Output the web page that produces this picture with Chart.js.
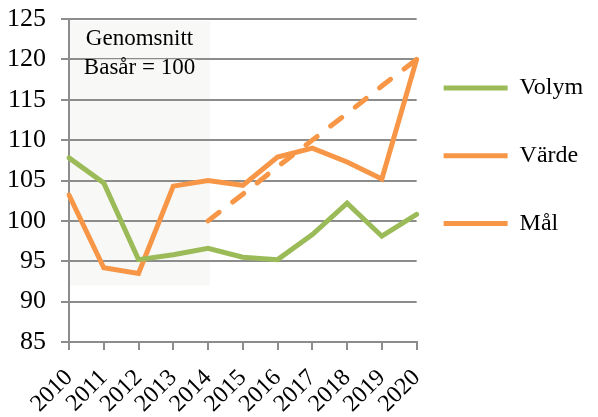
<!DOCTYPE html>
<html>
<head>
<meta charset="utf-8">
<script src="https://cdn.jsdelivr.net/npm/chart.js@4.4.0/dist/chart.umd.min.js"></script>
<style>
html, body { margin: 0; padding: 0; background: #fff; }
#wrap { width: 598px; height: 417px; position: relative; }
</style>
</head>
<body>
<div id="wrap"><canvas id="myChart"></canvas></div>
<script>
//Values
const years = ['2010', '2011', '2012', '2013', '2014', '2015', '2016', '2017', '2018', '2019', '2020'];
const volym = [107.8, 104.7, 95.2, 95.8, 96.6, 95.5, 95.2, 98.3, 102.2, 98.1, 100.8];
const varde = [103.2, 94.2, 93.5, 104.3, 105.0, 104.4, 107.9, 109.0, 107.3, 105.2, 120.0];
const mal = [null, null, null, null, 100, 103.3, 106.7, 110, 113.3, 116.7, 120];
const seriesNames = ['Volym', 'Värde', 'Mål'];
//Shaded base period box
const boxYears = ['2010', '2014'];
const boxRange = [92, 125];
const boxText = ['Genomsnitt', 'Basår = 100'];
const boxTextAt = [122.5, 118.9];

const serif = '"Liberation Serif", "Times New Roman", serif';
const green = '#9bbb59';
const orange = '#f79646';

//Draws the light shaded box behind the grid, and the text on top of the grid
const basePeriod = {
  id: 'basePeriod',
  beforeDraw(chart) {
    const {ctx, scales: {x, y}} = chart;
    const x0 = x.getPixelForValue(years.indexOf(boxYears[0]));
    const x1 = x.getPixelForValue(years.indexOf(boxYears[1])) + 2;
    const y0 = y.getPixelForValue(boxRange[1]) + 2;
    const y1 = y.getPixelForValue(boxRange[0]);
    ctx.save();
    ctx.fillStyle = '#f8f8f6';
    ctx.fillRect(x0, y0, x1 - x0, y1 - y0);
    ctx.restore();
  },
  beforeDatasetsDraw(chart) {
    const {ctx, scales: {x, y}} = chart;
    const x0 = x.getPixelForValue(years.indexOf(boxYears[0]));
    const x1 = x.getPixelForValue(years.indexOf(boxYears[1])) + 2;
    const cx = (x0 + x1) / 2;
    ctx.save();
    ctx.font = '23px ' + serif;
    ctx.textAlign = 'center';
    ctx.textBaseline = 'middle';
    boxText.forEach((t, i) => {
      const py = y.getPixelForValue(boxTextAt[i]);
      const w = ctx.measureText(t).width;
      ctx.fillStyle = '#f8f8f6';
      ctx.fillRect(cx - w / 2, py - 9, w, 18);
      ctx.fillStyle = '#000';
      ctx.fillText(t, cx, py);
    });
    ctx.restore();
  }
};

const ctx = document.getElementById('myChart').getContext('2d');
const myChart = new Chart(ctx, {
  type: 'line',
  data: {
    labels: years,
    datasets: [
      {label: seriesNames[0], data: volym, borderColor: green, backgroundColor: green,
        borderWidth: 5, pointRadius: 0, tension: 0, borderCapStyle: 'round', borderJoinStyle: 'miter'},
      {label: seriesNames[1], data: varde, borderColor: orange, backgroundColor: orange,
        borderWidth: 5, pointRadius: 0, tension: 0, borderCapStyle: 'round', borderJoinStyle: 'miter'},
      {label: seriesNames[2], data: mal, borderColor: orange, backgroundColor: orange,
        borderWidth: 5, pointRadius: 0, tension: 0, borderDash: [14, 17], borderCapStyle: 'round'}
    ]
  },
  options: {
    responsive: true,
    maintainAspectRatio: false,
    animation: false,
    layout: {padding: {top: 19, left: 0, right: 0, bottom: 0}},
    scales: {
      x: {
        offset: false,
        grid: {display: true, drawOnChartArea: false, color: '#8c8c8c', lineWidth: 2, tickLength: 8},
        border: {color: '#8c8c8c', width: 2},
        ticks: {color: '#000', font: {family: serif, size: 24}, maxRotation: 45, minRotation: 45,
          autoSkip: false, padding: 14},
        //Fixed axis height, and no extra side room for the tilted first label
        afterFit(scale) {
          scale.height = 75;
          scale.paddingLeft = 0;
          scale.paddingRight = 0;
        }
      },
      y: {
        min: 85,
        max: 125,
        grid: {color: '#8c8c8c', lineWidth: 2, tickLength: 8},
        border: {color: '#8c8c8c', width: 2},
        ticks: {stepSize: 5, color: '#000', font: {family: serif, size: 26}, padding: 15},
        afterFit(scale) {
          scale.width = 69;
          scale.paddingTop = 0;
          scale.paddingBottom = 0;
        }
      }
    },
    plugins: {
      tooltip: {enabled: false},
      legend: {
        position: 'right',
        align: 'start',
        maxWidth: 200,
        title: {display: true, text: '', font: {size: 30, lineHeight: 1}, padding: 0},
        labels: {
          color: '#000',
          font: {family: serif, size: 24, lineHeight: 1.7},
          usePointStyle: true,
          pointStyle: 'line',
          pointStyleWidth: 64,
          padding: 27,
          //Wrapping the text in an array lets the row height follow the font line height,
          //the thin space gives the legend box a little more room
          generateLabels(chart) {
            const items = Chart.defaults.plugins.legend.labels.generateLabels(chart);
            items.forEach((it) => { it.text = [it.text + '\u2009']; it.pointStyle = 'line'; });
            return items;
          }
        }
      }
    }
  },
  plugins: [basePeriod]
});
</script>
</body>
</html>
